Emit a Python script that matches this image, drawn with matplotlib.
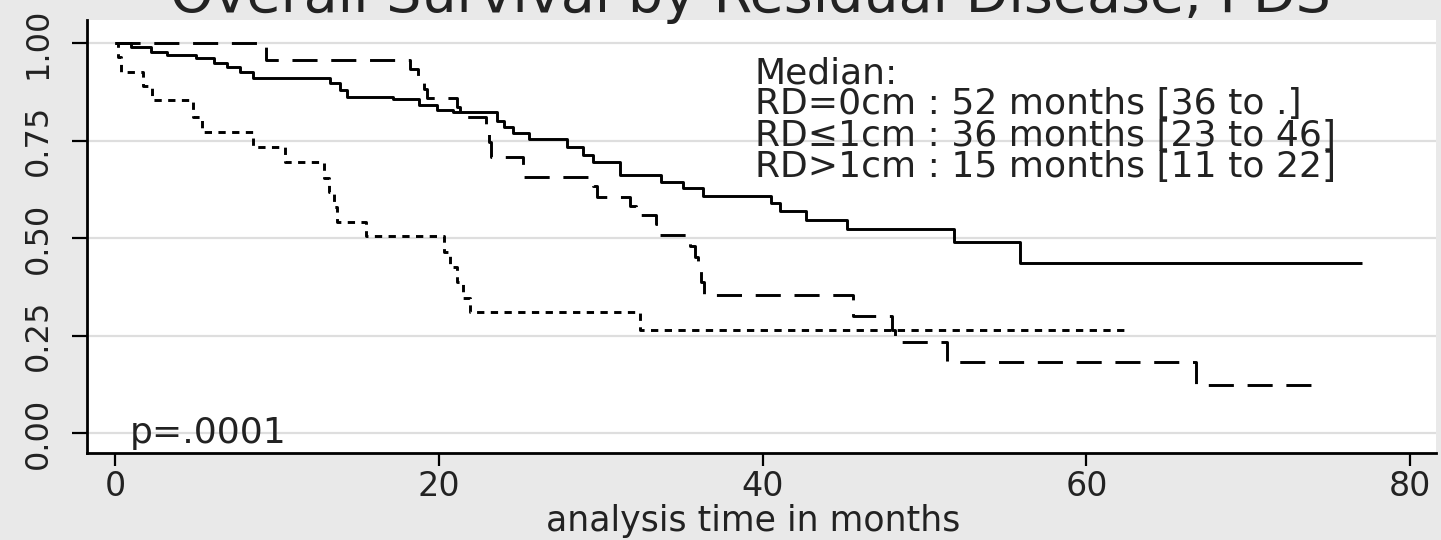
import matplotlib
matplotlib.use("Agg")
import matplotlib.pyplot as plt

# ---- data ----
title = "Overall Survival by Residual Disease, PDS"
xlabel = "analysis time in months"
xticks = [0, 20, 40, 60, 80]
yticks = [0.0, 0.25, 0.5, 0.75, 1.0]
ytick_labels = ["0.00", "0.25", "0.50", "0.75", "1.00"]

# RD = 0cm (solid)
rd0_t = [0, 1.0, 2.2, 3.2, 5.0, 6.1, 6.9, 7.7, 8.5, 13.3, 13.9, 14.3, 17.2, 18.8,
         19.9, 20.9, 23.6, 24.0, 24.6, 25.6, 27.9, 28.9, 29.5, 31.2, 33.7, 35.1,
         36.3, 40.5, 41.1, 42.7, 45.2, 51.8, 55.9, 77.0]
rd0_s = [1.0, 0.99, 0.977, 0.969, 0.962, 0.949, 0.938, 0.926, 0.91, 0.897, 0.879,
         0.862, 0.856, 0.841, 0.828, 0.823, 0.80, 0.785, 0.769, 0.754, 0.733, 0.713,
         0.695, 0.662, 0.644, 0.628, 0.608, 0.59, 0.569, 0.546, 0.523, 0.49, 0.436,
         0.436]

# RD <= 1cm (long dash)
rd1_t = [0, 9.3, 18.2, 18.7, 19.1, 19.3, 21.1, 21.3, 22.9, 23.1, 23.2, 25.2, 29.5,
         29.8, 31.8, 32.2, 33.4, 33.6, 35.5, 35.8, 36.0, 36.2, 36.4, 45.6, 48.0,
         48.2, 51.4, 66.8, 74.6]
rd1_s = [1.0, 0.956, 0.934, 0.912, 0.882, 0.859, 0.836, 0.81, 0.777, 0.745, 0.708,
         0.656, 0.633, 0.605, 0.582, 0.559, 0.535, 0.508, 0.48, 0.451, 0.42, 0.387,
         0.354, 0.30, 0.265, 0.233, 0.182, 0.123, 0.123]

# RD > 1cm (short dash)
rdg_t = [0, 0.2, 0.4, 1.7, 2.3, 4.8, 5.4, 8.5, 10.5, 12.9, 13.2, 13.5, 13.7, 15.5,
         20.3, 20.7, 21.1, 21.5, 21.9, 32.4, 62.5]
rdg_s = [1.0, 0.963, 0.926, 0.89, 0.854, 0.81, 0.772, 0.733, 0.695, 0.655, 0.617,
         0.58, 0.541, 0.505, 0.463, 0.425, 0.386, 0.347, 0.31, 0.264, 0.264]

legend_lines = ["Median:",
                "RD=0cm : 52 months [36 to .]",
                "RD\u22641cm : 36 months [23 to 46]",
                "RD>1cm : 15 months [11 to 22]"]
pvalue_text = "p=.0001"

# ---- figure ----
W, H = 1441, 540
fig = plt.figure(figsize=(W / 100, H / 100), dpi=100)
fig.patch.set_facecolor("#e9e9e9")

L, R, T, B = 87, 1436, 20, 453
ax = fig.add_axes([L / W, 1 - B / H, (R - L) / W, (B - T) / H])
ax.set_facecolor("white")

x0px, xs = 115, 16.19
y0px, ys = 433, 390.0
ax.set_xlim((L - x0px) / xs, (R - x0px) / xs)
ax.set_ylim((y0px - B) / ys, (y0px - T) / ys)

ax.yaxis.grid(True, color="#dedede", lw=1.6)
ax.set_axisbelow(True)

lw = 2.1
ax.step(rd0_t, rd0_s, where="post", color="black", lw=lw, solid_capstyle="butt")
ax.step(rd1_t, rd1_s, where="post", color="black", lw=lw, dashes=(8.6, 4.7))
ax.step(rdg_t, rdg_s, where="post", color="black", lw=lw, dashes=(2.5, 2.2))

for side in ["top", "right"]:
    ax.spines[side].set_visible(False)
for side in ["left", "bottom"]:
    ax.spines[side].set_linewidth(2.0)
    ax.spines[side].set_color("black")

ax.set_xticks(xticks)
ax.set_xticklabels([str(v) for v in xticks], fontsize=24, color="#222222")
ax.set_yticks(yticks)
ax.set_yticklabels(ytick_labels, fontsize=23, rotation=90, va="center",
                   color="#222222")
ax.tick_params(axis="x", length=9.5, width=1.6, pad=3)
ax.tick_params(axis="y", length=11, width=1.6, pad=13)

ax.set_xlabel(xlabel, fontsize=25, color="#222222")
ax.xaxis.label.set_va("baseline")
ax.xaxis.set_label_coords((753 - L) / (R - L), (B - 531) / (B - T))

fig.text(750 / W, 1 - 12.5 / H, title, ha="center", va="baseline",
         fontsize=40, color="#222222")

ax.text(0.9, 0.0, pvalue_text, ha="left", va="center", fontsize=26,
        color="#222222")

leg_x = (755 - x0px) / xs
leg_y = [0.897, 0.818, 0.736, 0.656]
for txt, yy in zip(legend_lines, leg_y):
    ax.text(leg_x, yy, txt, ha="left", va="baseline", fontsize=26,
            color="#222222")

fig.savefig("out.png", dpi=100, facecolor=fig.get_facecolor())
